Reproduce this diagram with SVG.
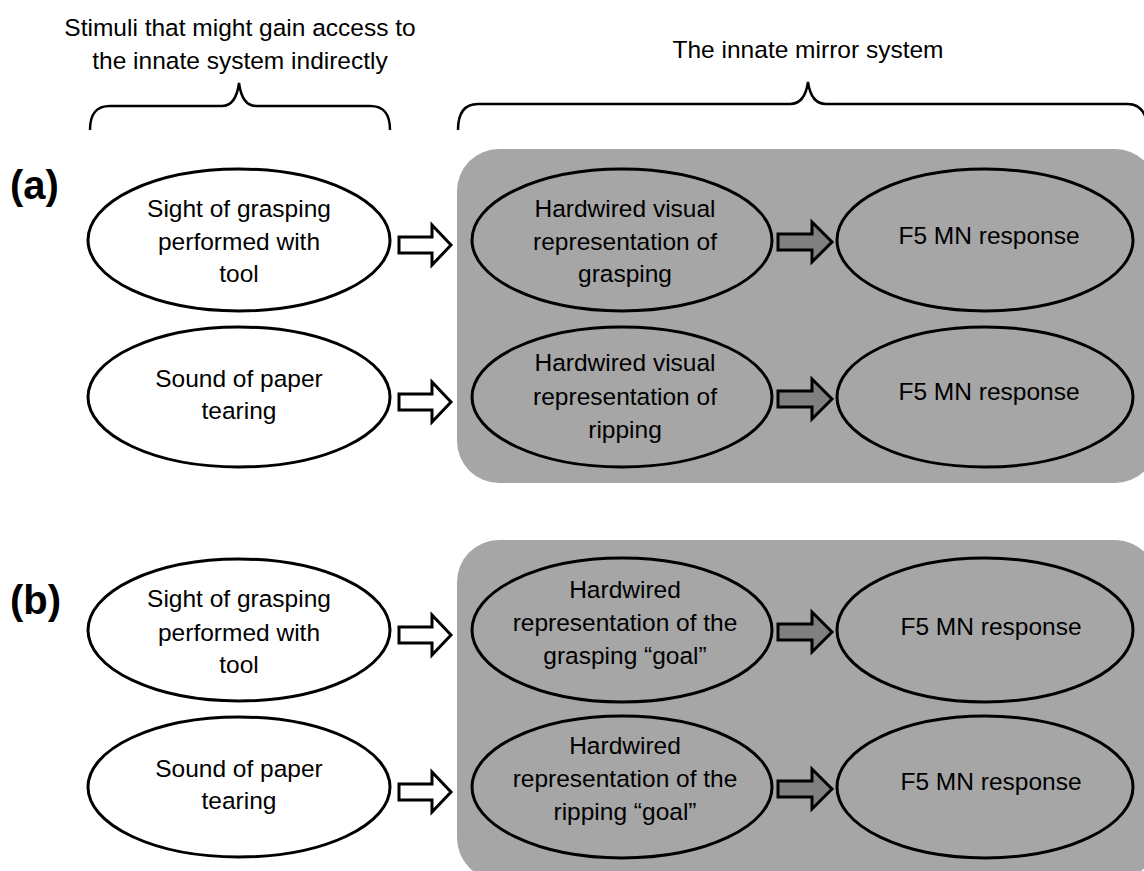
<svg xmlns="http://www.w3.org/2000/svg" xmlns:xlink="http://www.w3.org/1999/xlink" width="1144" height="871" viewBox="0 0 1144 871">
<style>
text{font-family:"Liberation Sans",Arial,sans-serif;font-size:24.5px;fill:#000;text-anchor:middle}
.lbl{font-size:40px;font-weight:bold;text-anchor:start}
.hdr{font-size:24.5px}
.w{fill:#fff;stroke:#000;stroke-width:3}
.g{fill:#a6a6a6;stroke:#000;stroke-width:3}
.box{fill:#a6a6a6;stroke:none}
.brace{fill:none;stroke:#000;stroke-width:2.5}
</style>
<defs>
<path id="wa" d="M-52,-8 L-19,-8 L-19,-20 L0,0 L-19,20 L-19,8 L-52,8 Z" fill="#fff" stroke="#000" stroke-width="3" stroke-linejoin="miter"/>
<path id="ga" d="M-54,-8 L-20,-8 L-20,-20 L0,0 L-20,20 L-20,8 L-54,8 Z" fill="#808080" stroke="#000" stroke-width="3" stroke-linejoin="miter"/>
</defs>
<rect width="1144" height="871" fill="#fff"/>
<g id="headers">
<text class="hdr" x="240" y="36">Stimuli that might gain access to</text>
<text class="hdr" x="240" y="69">the innate system indirectly</text>
<text class="hdr" x="808" y="58">The innate mirror system</text>
<path class="brace" d="M90,130 C90,115 95,106 110,106 L222,106 C232,106 237,98 239,83 C241,98 246,106 256,106 L370,106 C385,106 390,115 390,130"/>
<path class="brace" d="M458,130 C458,115 463,104 478,104 L790,104 C800,104 806,96 808,82 C810,96 816,104 826,104 L1128,104 C1138,104 1143,110 1146,118"/>
</g>
<g id="label-a"><text class="lbl" x="10" y="199">(a)</text></g>
<g id="label-b"><text class="lbl" x="10" y="614">(b)</text></g>
<g id="box-a"><rect class="box" x="457" y="149" width="700" height="334" rx="42"/></g>
<g id="box-b"><rect class="box" x="457" y="540" width="700" height="340" rx="42"/></g>

<g id="a-stim1"><ellipse class="w" cx="239" cy="240" rx="151" ry="71"/>
<text x="239" y="217">Sight of grasping</text><text x="239" y="250">performed with</text><text x="239" y="282">tool</text></g>
<g id="a-stim2"><ellipse class="w" cx="239" cy="397" rx="151" ry="70"/>
<text x="239" y="387">Sound of paper</text><text x="239" y="419">tearing</text></g>
<g id="a-rep1"><ellipse class="g" cx="622" cy="240" rx="150" ry="71"/>
<text x="625" y="217">Hardwired visual</text><text x="625" y="250">representation of</text><text x="625" y="282">grasping</text></g>
<g id="a-rep2"><ellipse class="g" cx="622" cy="397" rx="150" ry="70"/>
<text x="625" y="371">Hardwired visual</text><text x="625" y="405">representation of</text><text x="625" y="438">ripping</text></g>
<g id="a-f5-1"><ellipse class="g" cx="985" cy="240" rx="148" ry="71"/>
<text x="989" y="244">F5 MN response</text></g>
<g id="a-f5-2"><ellipse class="g" cx="985" cy="397" rx="148" ry="70"/>
<text x="989" y="400">F5 MN response</text></g>

<g id="b-stim1"><ellipse class="w" cx="239" cy="630" rx="151" ry="71"/>
<text x="239" y="607">Sight of grasping</text><text x="239" y="641">performed with</text><text x="239" y="673">tool</text></g>
<g id="b-stim2"><ellipse class="w" cx="239" cy="787" rx="151" ry="70"/>
<text x="239" y="777">Sound of paper</text><text x="239" y="809">tearing</text></g>
<g id="b-rep1"><ellipse class="g" cx="622" cy="630" rx="150" ry="72"/>
<text x="625" y="598">Hardwired</text><text x="625" y="631">representation of the</text><text x="625" y="664">grasping “goal”</text></g>
<g id="b-rep2"><ellipse class="g" cx="622" cy="787" rx="150" ry="71"/>
<text x="625" y="754">Hardwired</text><text x="625" y="787">representation of the</text><text x="625" y="820">ripping “goal”</text></g>
<g id="b-f5-1"><ellipse class="g" cx="985" cy="630" rx="148" ry="72"/>
<text x="991" y="635">F5 MN response</text></g>
<g id="b-f5-2"><ellipse class="g" cx="985" cy="787" rx="148" ry="71"/>
<text x="991" y="790">F5 MN response</text></g>

<g id="connectors">
<use xlink:href="#wa" x="451" y="245"/>
<use xlink:href="#wa" x="451" y="402"/>
<use xlink:href="#wa" x="451" y="635"/>
<use xlink:href="#wa" x="451" y="792"/>
<use xlink:href="#ga" x="832" y="242"/>
<use xlink:href="#ga" x="832" y="399"/>
<use xlink:href="#ga" x="832" y="632"/>
<use xlink:href="#ga" x="832" y="789"/>
</g>
</svg>
